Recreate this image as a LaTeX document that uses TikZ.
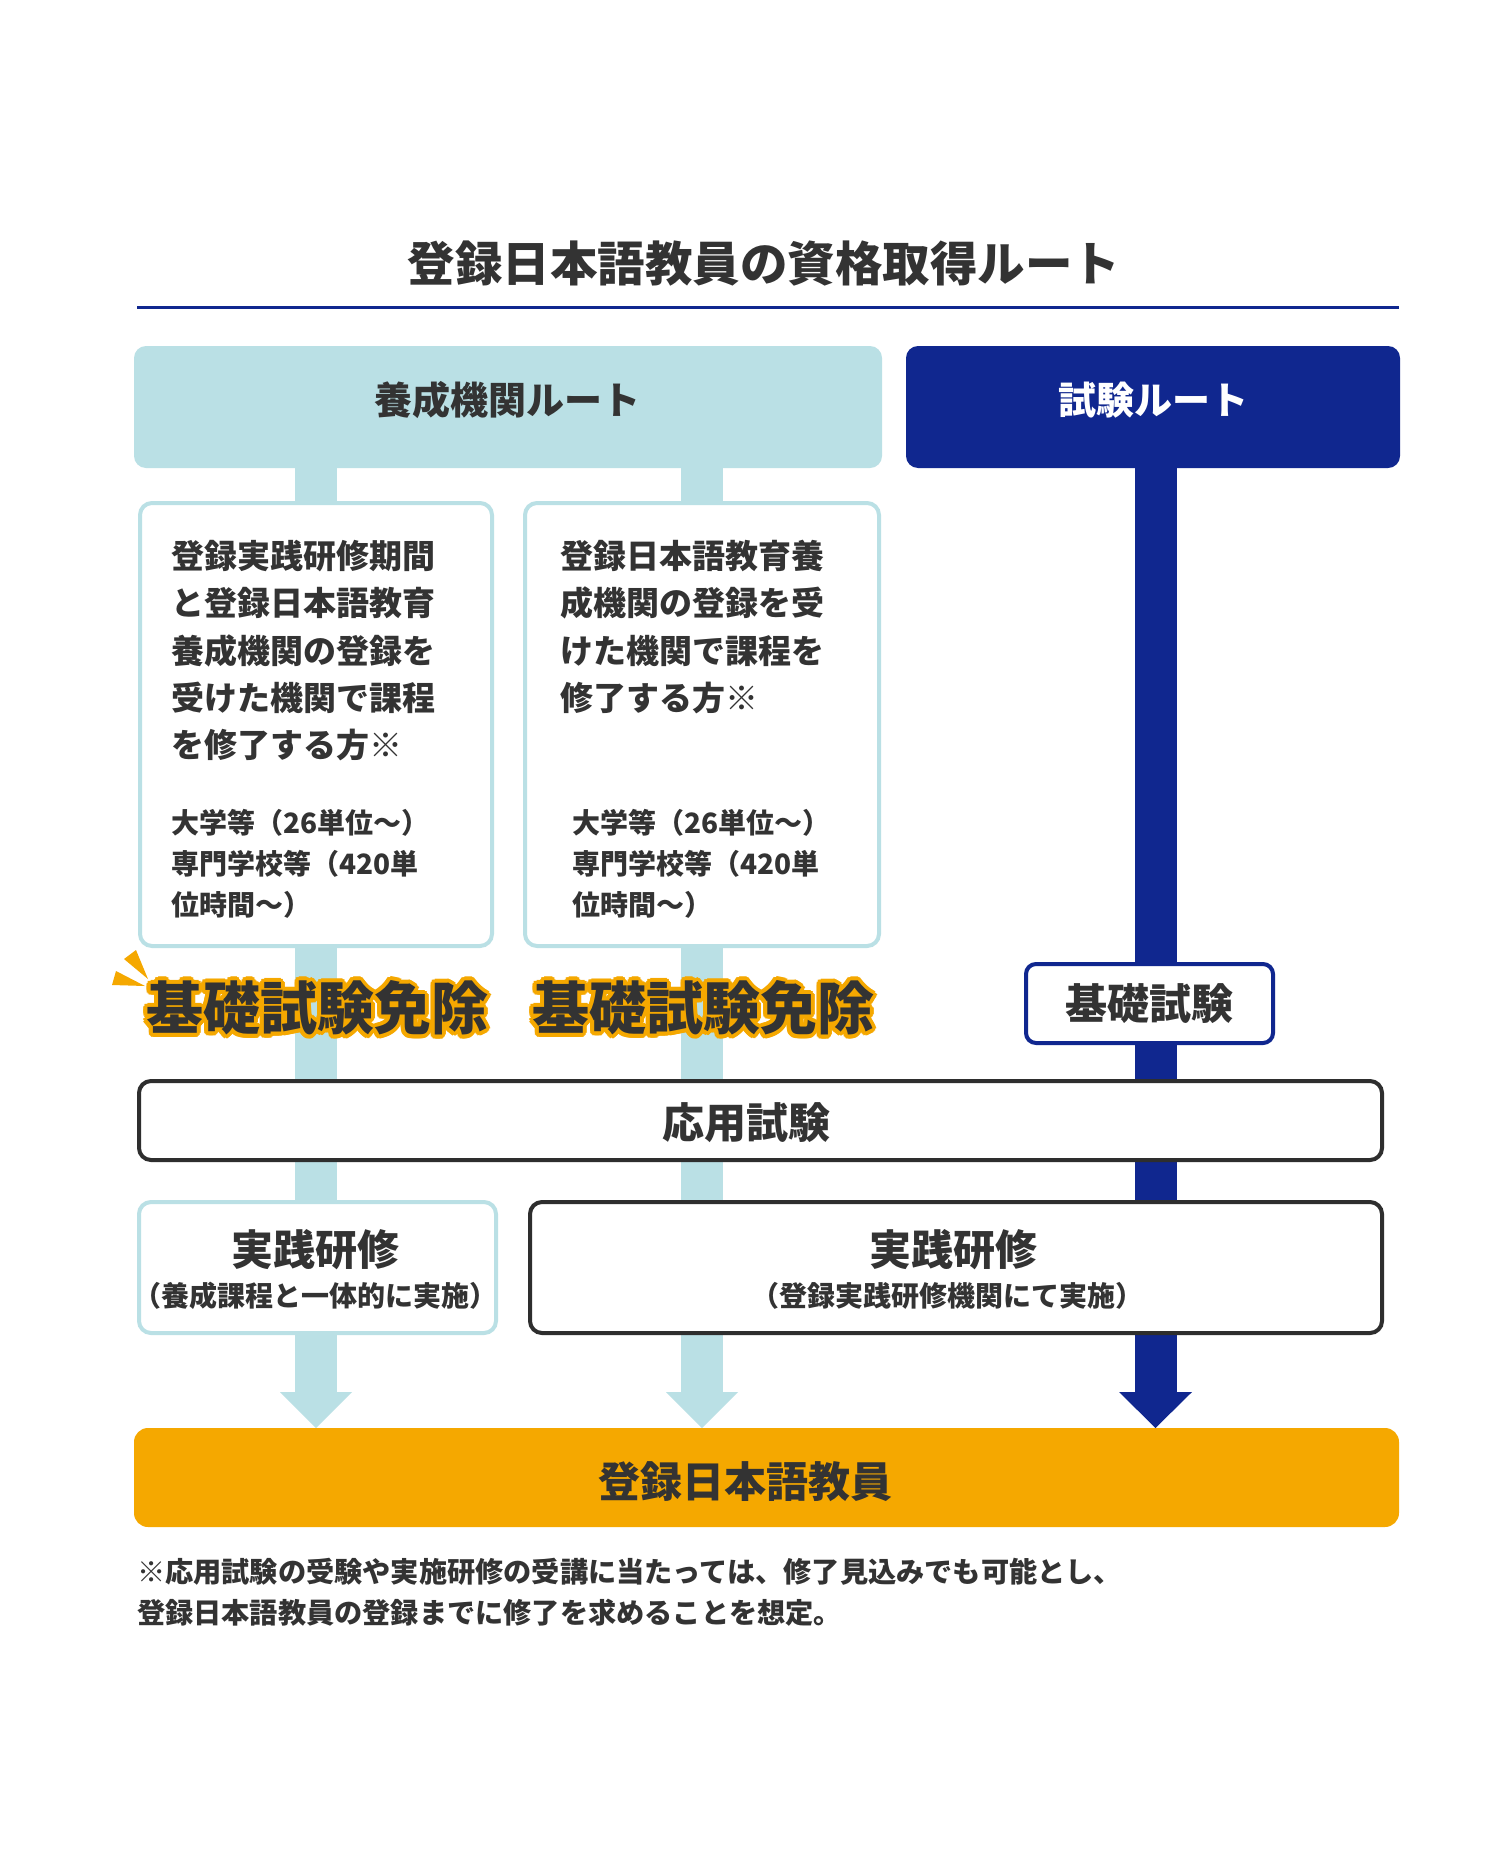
\documentclass[tikz,border=0pt]{standalone}
\usepackage{fontspec}
\setmainfont{Noto Sans CJK JP}
\definecolor{lb}{HTML}{BAE0E5}
\definecolor{nv}{HTML}{10278F}
\definecolor{og}{HTML}{F5A800}
\definecolor{tx}{HTML}{333333}
\definecolor{bd}{HTML}{2E2E2E}
\newcommand\fsz[1]{\fontsize{#1pt}{#1pt}\selectfont\bfseries}
\begin{document}
\begin{tikzpicture}[x=1pt,y=-1pt,
  every node/.style={inner sep=0pt, outer sep=0pt, text=tx},
  lbbox/.style={draw=lb, line width=4pt, fill=white, rounded corners=12pt},
  dkbox/.style={draw=bd, line width=4pt, fill=white, rounded corners=12pt},
  nvbox/.style={draw=nv, line width=4pt, fill=white, rounded corners=10pt},
  bar/.style={line width=42pt},
  bigtxt/.style={font=\fsz{42}},
  boxtxt/.style={font=\fsz{33}, anchor=west},
  smtxt/.style={font=\fsz{28}, anchor=west},
  subtxt/.style={font=\fsz{28}},
  extxt/.style={font=\fsz{57}}
]
\useasboundingbox (0,0) rectangle (1500,1857);
\fill[white] (0,0) rectangle (1500,1857);

% title
\node[font=\fsz{47.5}] (title) at (764,264) {登録日本語教員の資格取得ルート};
\draw[nv, line width=3pt] (137,307) coordinate (ulL) -- (1399,307) coordinate (ulR);

% headers
\node[fill=lb, rounded corners=12pt, minimum width=748pt, minimum height=122pt] (hdrL) at (508,407) {};
\node[fill=nv, rounded corners=12pt, minimum width=494pt, minimum height=122pt] (hdrR) at (1153,407) {};
\node[font=\fsz{38}] (hdrLt) at (507,400) {養成機関ルート};
\node[font=\fsz{38}, text=white] (hdrRt) at (1153,400) {試験ルート};

% final box
\node[fill=og, rounded corners=14pt, minimum width=1265pt, minimum height=99pt] (final) at (766.5,1477.5) {};
\node[bigtxt] (finalt) at (745,1482) {登録日本語教員};

% bar x positions
\coordinate (c1) at (316,0);
\coordinate (c2) at (702,0);
\coordinate (c3) at (1155.5,0);
\coordinate (h1) at (316,1393);
\coordinate (h2) at (702,1393);
\coordinate (h3) at (1155.5,1393);

\draw[bar, lb] (hdrL.south -| c1) -- (h1);
\draw[bar, lb] (hdrL.south -| c2) -- (h2);
\draw[bar, nv] (hdrR.south -| c3) -- (h3);
\fill[lb] (final.north -| c1) -- ++(-36,-36) -- ++(72,0) -- cycle;
\fill[lb] (final.north -| c2) -- ++(-36,-36) -- ++(72,0) -- cycle;
\fill[nv] (final.north -| c3) -- ++(-36.5,-36) -- ++(73,0) -- cycle;

% route boxes
\node[lbbox, minimum width=352pt, minimum height=443pt] (box1) at (316,724.5) {};
\node[lbbox, minimum width=354pt, minimum height=443pt] (box2) at (702,724.5) {};

\foreach \t [count=\i] in {登録実践研修期間,と登録日本語教育,養成機関の登録を,受けた機関で課程,を修了する方※}
  \node[boxtxt] (bA\i) at (171,{556+47.25*(\i-1)}) {\t};
\foreach \t [count=\i] in {大学等（26単位〜）,専門学校等（420単,位時間〜）}
  \node[smtxt] (sA\i) at (171,{823+41*(\i-1)}) {\t};

\foreach \t [count=\i] in {登録日本語教育養,成機関の登録を受,けた機関で課程を,修了する方※}
  \node[boxtxt] (bB\i) at (560.5,{556+47.25*(\i-1)}) {\t};
\foreach \t [count=\i] in {大学等（26単位〜）,専門学校等（420単,位時間〜）}
  \node[smtxt] (sB\i) at (572.5,{823+41*(\i-1)}) {\t};

% exemption labels: orange outline (offset copies) under the dark text
\foreach \a in {0,22.5,...,337.5} {
  \node[extxt, text=og, shift={(\a:4)}] (exAo\a) at (317,1008) {基礎試験免除};
  \node[extxt, text=og, shift={(\a:4)}] (exBo\a) at (703,1008) {基礎試験免除};
}
\node[extxt] (exA) at (317,1008) {基礎試験免除};
\node[extxt] (exB) at (703,1008) {基礎試験免除};
\fill[og] (136,950) -- (124,959) -- (148,979) -- cycle;
\fill[og] (116,971) -- (112,985) -- (145,986) -- cycle;

% basic exam
\node[nvbox, bigtxt, minimum width=247pt, minimum height=79pt] (kiso) at (1149.5,1003.5) {基礎試験};

% applied exam
\node[dkbox, minimum width=1243pt, minimum height=79pt] (ouyou) at (760.5,1120.5) {};
\node[bigtxt] (ouyout) at (746,1123) {応用試験};

% practical training
\node[lbbox, minimum width=357pt, minimum height=131pt] (prL) at (317.5,1267.5) {};
\node[bigtxt] (prLt) at (315,1250) {実践研修};
\node[subtxt] (prLs) at (315,1296) {（養成課程と一体的に実施）};
\node[dkbox, minimum width=852pt, minimum height=131pt] (prR) at (956,1267.5) {};
\node[bigtxt] (prRt) at (953,1250) {実践研修};
\node[subtxt] (prRs) at (947,1296) {（登録実践研修機関にて実施）};

% footnote
\node[font=\fsz{28.2}, anchor=west] (fn1) at (137,1572) {※応用試験の受験や実施研修の受講に当たっては、修了見込みでも可能とし、};
\node[font=\fsz{28.2}, anchor=west] (fn2) at (137,1613) {登録日本語教員の登録までに修了を求めることを想定。};
\end{tikzpicture}
\end{document}
